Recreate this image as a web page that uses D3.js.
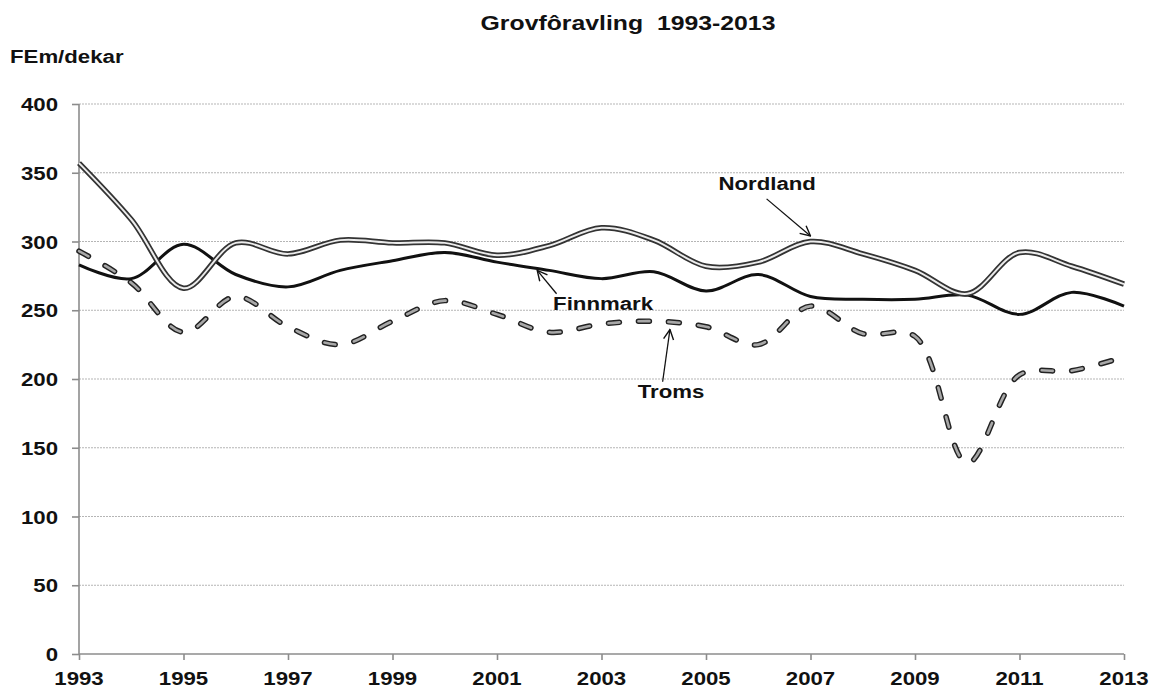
<!DOCTYPE html>
<html>
<meta charset="utf-8">
<title>Grovfôravling 1993-2013</title>
<script src="https://d3js.org/d3.v7.min.js"></script>
<style>
  body { margin: 0; background: #fff; }
  text { font-family: "Liberation Sans", Arial, sans-serif; font-weight: bold; fill: #111; white-space: pre; }
</style>
<body>
<svg id="chart" width="1152" height="688"></svg>
<script>
// years on the x axis
var years = d3.range(1993, 2014);
var xTicks = [1993, 1995, 1997, 1999, 2001, 2003, 2005, 2007, 2009, 2011, 2013];
var yTicks = [0, 50, 100, 150, 200, 250, 300, 350, 400];

// FEm/dekar
var nordland = [357, 316, 266, 299, 291, 301, 299, 299, 290, 297, 310, 301, 282, 285, 300, 291, 279, 262, 292, 282, 269];
var finnmark = [283, 273, 298, 276, 267, 279, 286, 292, 285, 279, 273, 278, 264, 276, 260, 258, 258, 261, 247, 263, 253];
var troms    = [293, 270, 234, 260, 238, 225, 242, 257, 247, 234, 240, 242, 238, 225, 253, 233, 231, 139, 203, 206, 216];

// labels with arrows: [text, textYear, textValue, fromYear, fromValue, toYear, toValue]
var callouts = [
  ["Nordland", 2006.17, 337.5, 2006.16, 331, 2007.0, 304],
  ["Finnmark", 2003.03, 250, 2002.14, 262, 2001.77, 279],
  ["Troms",    2004.33, 186, 2004.17, 198, 2004.31, 236]
];

var svg = d3.select("#chart");
var sx = 1.17; // the original text is a bit wide

var x = d3.scaleLinear().domain([1993, 2013]).range([79, 1124]);
var y = d3.scaleLinear().domain([0, 400]).range([654, 104]);

function label(txt, px, py, anchor, size, stretch) {
  return svg.append("text")
    .attr("transform", "translate(" + px + "," + py + ") scale(" + (stretch || sx) + ",1)")
    .attr("text-anchor", anchor)
    .attr("xml:space", "preserve")
    .style("font-size", size + "px")
    .text(txt);
}

// gridlines
svg.append("g").selectAll("line")
  .data(yTicks.filter(function(d){ return d > 0; }))
  .enter().append("line")
  .attr("x1", x(1993)).attr("x2", x(2013))
  .attr("y1", function(d){ return y(d); }).attr("y2", function(d){ return y(d); })
  .attr("stroke", "#b5b5b5").attr("stroke-width", 1)
  .attr("stroke-dasharray", "2,1");

// axes
var yAxis = svg.append("g").attr("transform", "translate(" + x(1993) + ",0)")
  .call(d3.axisLeft(y).tickValues(yTicks).tickSize(7).tickFormat(""));
var xAxis = svg.append("g").attr("transform", "translate(0," + y(0) + ")")
  .call(d3.axisBottom(x).tickValues(xTicks).tickSize(6).tickFormat(""));
svg.selectAll(".domain, .tick line").attr("stroke", "#8c8c8c").attr("stroke-width", 1.6);
yAxis.select(".domain").attr("d", "M0," + y(400) + "V" + y(0));
xAxis.select(".domain").attr("d", "M" + x(1993) + ",0H" + x(2013));

yTicks.forEach(function(d){ label(d, 58, y(d) + 7, "end", 19); });
xTicks.forEach(function(d){ label(d, x(d), 685, "middle", 19); });

label("Grovfôravling  1993-2013", 628, 30, "middle", 20, 1.24);
label("FEm/dekar", 10, 63, "start", 19);

var line = d3.line()
  .x(function(d, i){ return x(years[i]); })
  .y(function(d){ return y(d); })
  .curve(d3.curveCatmullRom);

// Troms: dashed compound line
svg.append("path").attr("d", line(troms)).attr("fill", "none")
  .attr("stroke", "#222").attr("stroke-width", 5.5)
  .attr("stroke-linecap", "round").attr("stroke-dasharray", "11,19");
svg.append("path").attr("d", line(troms)).attr("fill", "none")
  .attr("stroke", "#a8a8a8").attr("stroke-width", 2.6)
  .attr("stroke-linecap", "round").attr("stroke-dasharray", "11,19");

// Finnmark: solid black
svg.append("path").attr("d", line(finnmark)).attr("fill", "none")
  .attr("stroke", "#111").attr("stroke-width", 3);

// Nordland: double line
svg.append("path").attr("d", line(nordland)).attr("fill", "none")
  .attr("stroke", "#333").attr("stroke-width", 5.5);
svg.append("path").attr("d", line(nordland)).attr("fill", "none")
  .attr("stroke", "#ececec").attr("stroke-width", 2);

// arrow marker
svg.append("defs").append("marker")
  .attr("id", "arrow").attr("viewBox", "0 0 12 12")
  .attr("refX", 11).attr("refY", 6)
  .attr("markerWidth", 12).attr("markerHeight", 12)
  .attr("markerUnits", "userSpaceOnUse").attr("orient", "auto")
  .append("path").attr("d", "M1,1 L11,6 L1,11")
  .attr("fill", "none").attr("stroke", "#111").attr("stroke-width", 1.4);

callouts.forEach(function(c){
  svg.append("line")
    .attr("x1", x(c[3])).attr("y1", y(c[4]))
    .attr("x2", x(c[5])).attr("y2", y(c[6]))
    .attr("stroke", "#111").attr("stroke-width", 1.3)
    .attr("marker-end", "url(#arrow)");
  label(c[0], x(c[1]), y(c[2]), "middle", 19);
});
</script>
</body>
</html>
